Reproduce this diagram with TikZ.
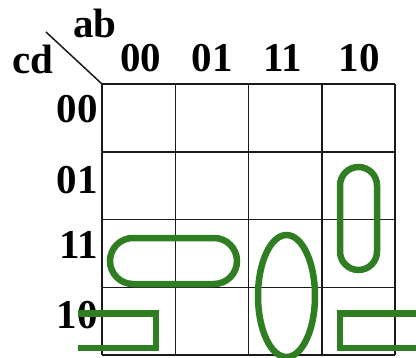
\documentclass[tikz,border=0pt]{standalone}
\usepackage{fontspec}
\setmainfont{Liberation Serif}
\usepackage{tikz}
\usetikzlibrary{positioning,calc}
\definecolor{loopgreen}{HTML}{2F7F22}
\definecolor{gridline}{HTML}{1A1A1A}

\begin{document}
\begin{tikzpicture}[x=1pt,y=-1pt,
    cellline/.style={draw=gridline, line width=1.5pt},
    varlabel/.style={font=\fontsize{41}{41}\selectfont\bfseries, inner sep=0pt, anchor=base},
    rowlabel/.style={varlabel, anchor=base east},
    groupline/.style={draw=loopgreen, line width=6.5pt},
  ]
  \useasboundingbox (0,0) rectangle (416,357);
  % map grid
  \foreach \gx in {102,175.25,248.5,321.75,395}
    \draw[cellline] (\gx,84) -- (\gx,355);
  \foreach \gy in {84,151.75,219.5,287.25,355}
    \draw[cellline] (102,\gy) -- (395,\gy);
  \coordinate (corner) at (102,84);
  \coordinate (slash) at (46,32);
  \draw[cellline] (slash) -- (corner);
  % variable names
  \node[varlabel] (ab) at (95,37) {ab};
  \node[varlabel] (cd) at (33,73) {cd};
  \node[varlabel] (c00) at (141,71) {00};
  \node[varlabel] (c01) at (212,71) {01};
  \node[varlabel] (c11) at (283,71) {11};
  \node[varlabel] (c10) at (359,71) {10};
  \node[rowlabel] (r00) at (98,122) {00};
  \node[rowlabel] (r01) at (98,193) {01};
  \node[rowlabel] (r11) at (98,258) {11};
  \node[rowlabel] (r10) at (98,328) {10};
  % groups
  \draw[groupline, rounded corners=23pt] (110,238) rectangle (237,284);
  \draw[groupline, rounded corners=18.5pt] (340,167) rectangle (377,270);
  \draw[groupline] (286.5,296) ellipse [x radius=28.5pt, y radius=61pt];
  \draw[groupline] (78,313.5) -- (156,313.5) -- (156,348) -- (78,348);
  \draw[groupline] (420,313.5) -- (340,313.5) -- (340,348) -- (420,348);
\end{tikzpicture}
\end{document}
